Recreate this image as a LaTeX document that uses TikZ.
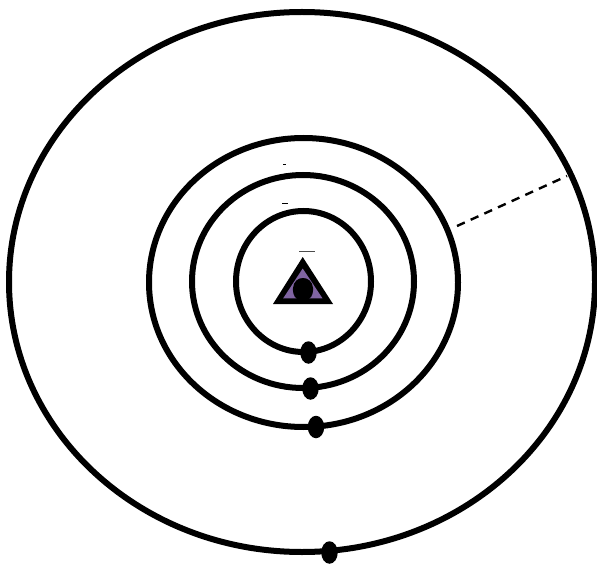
\documentclass[tikz,border=0pt]{standalone}
\usetikzlibrary{shapes.geometric}
\definecolor{tripurple}{HTML}{8064A2}
\tikzset{
  orbit/.style={draw=black,line width=6pt,fill=none},
  planet/.style={draw=none,fill=black,shape=ellipse,inner sep=0pt,minimum width=16.5pt,minimum height=22.5pt},
  tick/.style={draw=black,line width=1pt},
  gap/.style={draw=black,line width=2.4pt,dash pattern=on 8.5pt off 6.5pt}
}
\begin{document}
\begin{tikzpicture}[x=1pt,y=-1pt]
\useasboundingbox[fill=white] (0,0) rectangle (597,564);
\draw[orbit] (302,282) ellipse [x radius=293,y radius=270];
\draw[orbit] (303.5,282.5) ellipse [x radius=154.5,y radius=144.5];
\draw[orbit] (303,281.5) ellipse [x radius=111,y radius=106.5];
\draw[orbit] (303.5,281.5) ellipse [x radius=67.5,y radius=70.5];
\node[planet] (p1) at (308.5,352.5) {};
\node[planet] (p2) at (310.5,388.5) {};
\node[planet] (p3) at (316,427) {};
\node[planet] (p4) at (329.5,552.5) {};
\coordinate (gapa) at (457,226);
\coordinate (gapb) at (567,176);
\draw[gap] (gapa) -- (gapb);
\fill[black] (302.7,257) -- (333,304) -- (273,304) -- cycle;
\fill[tripurple] (302.7,268.5) -- (322.5,298.3) -- (283.2,298.3) -- cycle;
\fill[black] (297,299) .. controls (293,296) and (292.8,291) .. (293,288) .. controls (293.5,281.5) and (298,278) .. (303,278) .. controls (308,278) and (312.5,281.5) .. (313,288) .. controls (313.2,291) and (313,296) .. (309,299) -- cycle;
\draw[draw=black!70,line width=0.6pt] (299,251) -- (315,251);
\draw[tick] (282,204) -- (288,204);
\draw[tick,line width=0.7pt] (283,164) -- (286,164);
\end{tikzpicture}
\end{document}
